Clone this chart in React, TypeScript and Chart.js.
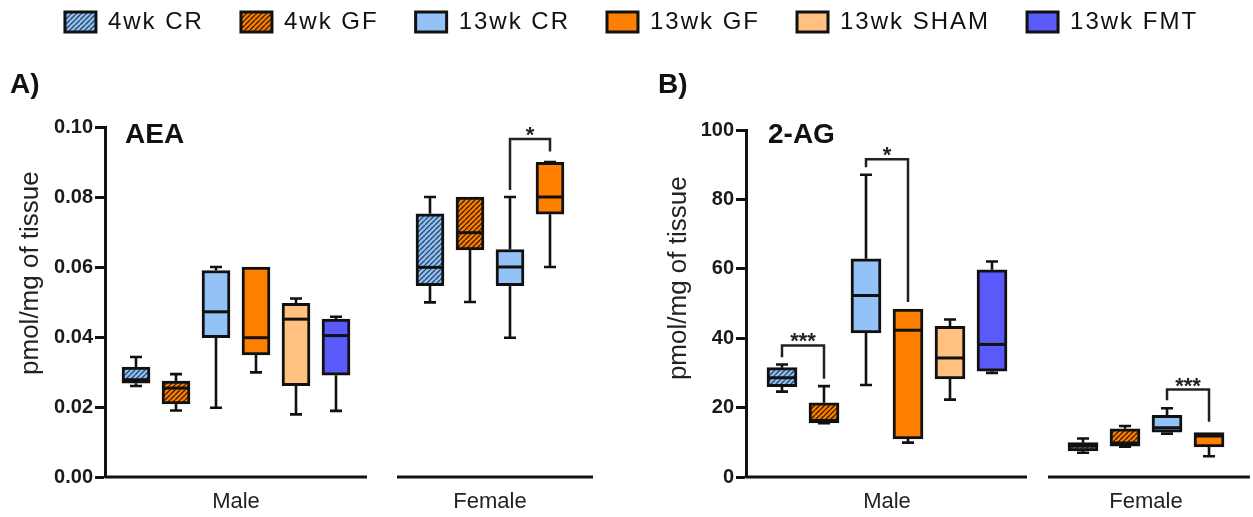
import React, { useEffect, useRef } from 'react';
import { Chart, registerables } from 'chart.js';
Chart.register(...registerables);

const FONT = "'Liberation Sans', Arial, Helvetica, sans-serif";
Chart.defaults.font.family = FONT;

// ---------- data ----------
const SERIES = ['4wk CR', '4wk GF', '13wk CR', '13wk GF', '13wk SHAM', '13wk FMT'];
const GROUPS = ['Male', 'Female'];

// each entry: [min, q1, median, q3, max]
const AEA_MALE = [
  [0.026, 0.0268, 0.0278, 0.0314, 0.0343],
  [0.019, 0.0209, 0.0254, 0.0274, 0.0294],
  [0.0198, 0.0398, 0.0472, 0.059, 0.06],
  [0.0299, 0.0349, 0.0398, 0.06, 0.06],
  [0.0179, 0.0261, 0.0451, 0.0496, 0.051],
  [0.0189, 0.0291, 0.0404, 0.0451, 0.0458],
];
const AEA_FEMALE = [
  [0.0499, 0.0547, 0.0599, 0.0752, 0.08],
  [0.05, 0.0649, 0.0698, 0.08, 0.08],
  [0.0398, 0.0547, 0.06, 0.065, 0.08],
  [0.06, 0.0751, 0.08, 0.0899, 0.09],
];
const AG_MALE = [
  [24.6, 26.0, 28.6, 31.5, 32.4],
  [15.5, 15.6, 16.3, 21.4, 26.2],
  [26.5, 41.5, 52.3, 62.9, 87.1],
  [9.9, 11.0, 42.3, 48.4, 48.4],
  [22.3, 28.3, 34.3, 43.4, 45.4],
  [30.0, 30.5, 38.2, 59.7, 62.1],
];
const AG_FEMALE = [
  [7.0, 7.5, 8.9, 9.9, 11.1],
  [8.7, 8.9, 9.8, 13.9, 14.7],
  [12.5, 12.9, 14.2, 17.8, 19.8],
  [6.0, 8.7, 11.8, 12.8, 12.8],
];
const AEA_TICKS = [0, 0.02, 0.04, 0.06, 0.08, 0.1];
const AG_TICKS = [0, 20, 40, 60, 80, 100];

// significance brackets: [group, series a, series b, left leg end, bracket top, right leg end, label]
const AEA_SIG = [['Female', 2, 3, 0.082, 0.0966, 0.093, '*']];
const AG_SIG = [
  ['Male', 0, 1, 34.5, 37.9, 28.3, '***'],
  ['Male', 2, 3, 89.3, 91.6, 50.4, '*'],
  ['Female', 2, 3, 22.1, 25.2, 15.9, '***'],
];

// ---------- styles ----------
const INK = '#111111';
const FILLS = ['#92C2F6', '#FF8000', '#92C2F6', '#FF8000', '#FFC080', '#5A5AFA'];
const HATCH_INK = ['#2C4866', '#3D1F00', null, null, null, null];

function hatch(bg: string, ink: string) {
  const s = 5;
  const c = document.createElement('canvas');
  c.width = s;
  c.height = s;
  const g = c.getContext('2d')!;
  g.fillStyle = bg;
  g.fillRect(0, 0, s, s);
  g.strokeStyle = ink;
  g.lineWidth = 1.4;
  g.beginPath();
  for (const o of [-s, 0, s]) {
    g.moveTo(o, s);
    g.lineTo(o + s, 0);
  }
  g.stroke();
  return g.createPattern(c, 'repeat')!;
}

const PANEL_A = {
  key: 'A', letter: 'A)', name: 'AEA',
  male: AEA_MALE, female: AEA_FEMALE, ticks: AEA_TICKS, sig: AEA_SIG,
  fmt: (v: number) => v.toFixed(2),
  femaleStart: 7.35, xMin: -0.775, xMax: 27.925,
  segs: [[-0.775, 5.775], [6.525, 11.425]],
  barW: 28, capW: 12,
  padding: { top: -27, left: 10, right: 0, bottom: 0 },
  axisW: 95, titleSpaces: 8, titlePadTop: 5,
  letterPad: { top: 24.2, bottom: 25.2 },
  nameDx: 20, nameDy: 16,
  legend: true,
};
const PANEL_B = {
  key: 'B', letter: 'B)', name: '2-AG',
  male: AG_MALE, female: AG_FEMALE, ticks: AG_TICKS, sig: AG_SIG,
  fmt: (v: number) => String(Math.round(v)),
  femaleStart: 7.167, xMin: -0.857, xMax: 11.214,
  segs: [[-0.857, 5.833], [6.333, 11.14]],
  barW: 30, capW: 12,
  padding: { top: 0, left: 658, right: 0, bottom: 0 },
  axisW: 88, titleSpaces: 7, titlePadTop: 5.5,
  letterPad: { top: 68.2, bottom: 28.2 },
  nameDx: 22, nameDy: 13,
  legend: false,
};

const LEGEND_SPACING = '2px';

function buildConfig(p: any): any {
  const datasets = SERIES.map((label, i) => {
    const data: any[] = [];
    const m = p.male[i];
    if (m) data.push({ x: i, y: [m[1], m[3]], s: m });
    const f = p.female[i];
    if (f) data.push({ x: p.femaleStart + i, y: [f[1], f[3]], s: f });
    return {
      type: 'bar',
      label,
      data,
      backgroundColor: HATCH_INK[i] ? hatch(FILLS[i], HATCH_INK[i] as string) : FILLS[i],
      borderColor: INK,
      borderWidth: 3,
      borderSkipped: false,
      barThickness: p.barW,
      grouped: false,
    };
  });

  const groupCenters = [2.5, p.femaleStart + 1.5];
  const gx = (g: string, i: number) => (g === 'Male' ? 0 : p.femaleStart) + i;

  const extras = {
    id: 'extras' + p.key,
    afterDatasetsDraw(chart: any) {
      const { ctx } = chart;
      const x = chart.scales.x;
      const y = chart.scales.y;
      ctx.save();
      ctx.strokeStyle = INK;
      ctx.lineCap = 'butt';
      chart.data.datasets.forEach((ds: any) => {
        ds.data.forEach((pt: any) => {
          const [mn, q1, md, q3, mx] = pt.s;
          const cx = x.getPixelForValue(pt.x);
          const hw = p.barW / 2;
          const hc = p.capW / 2;
          ctx.lineWidth = 2.6;
          ctx.beginPath();
          if (mx > q3) {
            const a = y.getPixelForValue(q3), b = y.getPixelForValue(mx);
            ctx.moveTo(cx, a); ctx.lineTo(cx, b);
            ctx.moveTo(cx - hc, b); ctx.lineTo(cx + hc, b);
          }
          if (mn < q1) {
            const a = y.getPixelForValue(q1), b = y.getPixelForValue(mn);
            ctx.moveTo(cx, a); ctx.lineTo(cx, b);
            ctx.moveTo(cx - hc, b); ctx.lineTo(cx + hc, b);
          }
          ctx.stroke();
          ctx.lineWidth = 3;
          ctx.beginPath();
          const ym = y.getPixelForValue(md);
          ctx.moveTo(cx - hw + 2, ym);
          ctx.lineTo(cx + hw - 2, ym);
          ctx.stroke();
        });
      });
      ctx.restore();
    },
    afterDraw(chart: any) {
      const { ctx, chartArea } = chart;
      const x = chart.scales.x;
      const y = chart.scales.y;
      ctx.save();
      // broken x axis segments
      ctx.strokeStyle = INK;
      ctx.lineWidth = 3;
      const yb = y.getPixelForValue(p.ticks[0]);
      p.segs.forEach((s: number[]) => {
        ctx.beginPath();
        ctx.moveTo(x.getPixelForValue(s[0]), yb);
        ctx.lineTo(x.getPixelForValue(s[1]), yb);
        ctx.stroke();
      });
      // significance brackets
      ctx.lineWidth = 2.5;
      ctx.strokeStyle = '#222';
      ctx.fillStyle = '#222';
      ctx.font = `bold 22px ${FONT}`;
      ctx.textAlign = 'center';
      ctx.textBaseline = 'alphabetic';
      p.sig.forEach((s: any[]) => {
        const x1 = x.getPixelForValue(gx(s[0], s[1]));
        const x2 = x.getPixelForValue(gx(s[0], s[2]));
        const yt = y.getPixelForValue(s[4]);
        ctx.beginPath();
        ctx.moveTo(x1, y.getPixelForValue(s[3]));
        ctx.lineTo(x1, yt);
        ctx.lineTo(x2, yt);
        ctx.lineTo(x2, y.getPixelForValue(s[5]));
        ctx.stroke();
        ctx.fillText(s[6], (x1 + x2) / 2, yt + 3);
      });
      // panel analyte name
      ctx.fillStyle = INK;
      ctx.font = `bold 28px ${FONT}`;
      ctx.textAlign = 'left';
      ctx.fillText(p.name, chartArea.left + p.nameDx, chartArea.top + p.nameDy);
      ctx.restore();
    },
  };

  // wider legend lettering (measured during layout, applied only while the legend draws)
  const spacing = {
    id: 'legendSpacing' + p.key,
    afterInit(chart: any) {
      const lg = chart.legend;
      if (lg && !lg.__spaced) {
        const orig = lg.draw.bind(lg);
        lg.draw = (...args: any[]) => {
          const c = chart.ctx;
          c.letterSpacing = LEGEND_SPACING;
          orig(...args);
          c.letterSpacing = '0px';
        };
        lg.__spaced = true;
      }
    },
    beforeLayout(chart: any) { chart.ctx.letterSpacing = LEGEND_SPACING; },
    afterLayout(chart: any) { chart.ctx.letterSpacing = '0px'; },
  };

  return {
    type: 'bar',
    data: { datasets },
    options: {
      animation: false,
      responsive: false,
      devicePixelRatio: 1,
      events: [],
      indexAxis: 'x',
      layout: { padding: p.padding },
      scales: {
        x: {
          type: 'linear',
          min: p.xMin,
          max: p.xMax,
          offset: false,
          grid: { display: false, drawTicks: false },
          border: { display: false },
          afterBuildTicks: (s: any) => { s.ticks = groupCenters.map((v) => ({ value: v })); },
          afterFit: (s: any) => { s.height = 40; },
          ticks: {
            autoSkip: false,
            maxRotation: 0,
            padding: 12,
            color: '#222',
            font: { size: 22, family: FONT },
            callback: (_v: any, i: number) => GROUPS[i],
          },
        },
        y: {
          type: 'linear',
          min: p.ticks[0],
          max: p.ticks[p.ticks.length - 1],
          afterBuildTicks: (s: any) => { s.ticks = p.ticks.map((v: number) => ({ value: v })); },
          afterFit: (s: any) => { s.width = p.axisW; },
          grid: {
            display: true,
            drawOnChartArea: false,
            drawTicks: true,
            tickLength: 10,
            tickWidth: 3,
            tickColor: INK,
          },
          border: { display: true, width: 3, color: INK },
          ticks: {
            padding: 2,
            color: '#1a1a1a',
            font: { size: 20, weight: 'bold', family: FONT },
            callback: (v: any) => p.fmt(Number(v)),
          },
          title: {
            display: true,
            text: ' '.repeat(p.titleSpaces) + 'pmol/mg of tissue',
            color: '#222',
            font: { size: 26, family: FONT },
            padding: { top: p.titlePadTop, bottom: 0 },
          },
        },
      },
      plugins: {
        tooltip: { enabled: false },
        legend: {
          display: p.legend,
          position: 'top',
          align: 'center',
          labels: {
            color: INK,
            font: { size: 24, family: FONT },
            boxWidth: 31,
            boxHeight: 20,
            padding: 37,
          },
        },
        title: {
          display: true,
          text: p.letter,
          align: 'start',
          weight: 500,
          color: INK,
          font: { size: 28, weight: 'bold', family: FONT },
          padding: p.letterPad,
        },
      },
    },
    plugins: p.legend ? [spacing, extras] : [extras],
  };
}

export default function App() {
  const refA = useRef<HTMLCanvasElement>(null);
  const refB = useRef<HTMLCanvasElement>(null);
  useEffect(() => {
    const a = new Chart(refA.current!, buildConfig(PANEL_A));
    const b = new Chart(refB.current!, buildConfig(PANEL_B));
    return () => {
      a.destroy();
      b.destroy();
    };
  }, []);
  return (
    <div style={{ position: 'fixed', left: 0, top: 0, width: 1253, height: 517, background: '#fff' }}>
      <canvas ref={refA} width={1253} height={517} style={{ position: 'absolute', left: 0, top: 0 }} />
      <canvas ref={refB} width={1253} height={517} style={{ position: 'absolute', left: 0, top: 0 }} />
    </div>
  );
}
